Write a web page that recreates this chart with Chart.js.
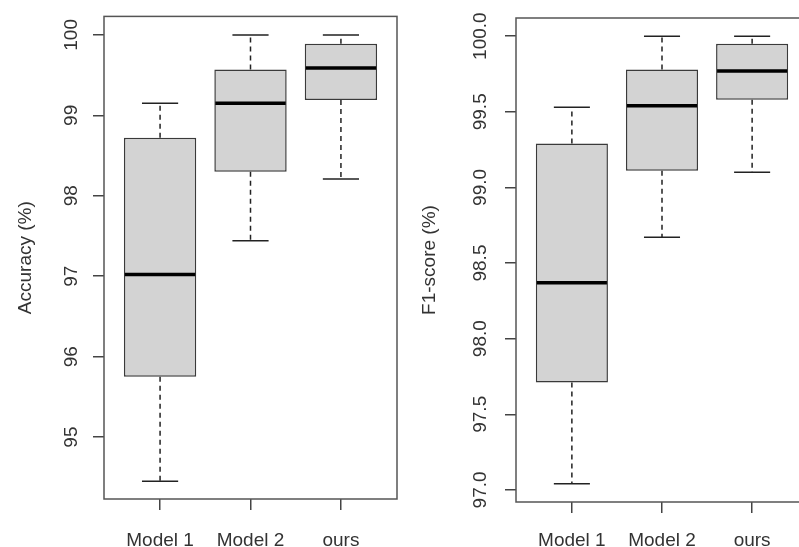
<!DOCTYPE html>
<html>
<head>
<meta charset="utf-8">
<script src="https://cdn.jsdelivr.net/npm/chart.js@4.4.1/dist/chart.umd.min.js"></script>
<style>
  html, body { margin: 0; padding: 0; background: #fff; overflow: hidden; }
  #wrap { position: relative; width: 799px; height: 547px; overflow: hidden; }
  #c1 { position: absolute; left: 0; top: 0; }
  #c2 { position: absolute; left: 400px; top: 0; }
</style>
</head>
<body>
<div id="wrap">
  <canvas id="c1" width="400" height="547"></canvas>
  <canvas id="c2" width="420" height="547"></canvas>
</div>
<script>
// Box plot summaries
const models = ['Model 1', 'Model 2', 'ours'];

const accMin = [94.45, 97.44, 98.21];
const accQ1  = [95.75, 98.30, 99.19];
const accMed = [97.02, 99.15, 99.59];
const accQ3  = [98.72, 99.57, 99.89];
const accMax = [99.15, 100.0, 100.0];
const accTicks = [95, 96, 97, 98, 99, 100];

const f1Min = [97.04, 98.67, 99.10];
const f1Q1  = [97.71, 99.11, 99.58];
const f1Med = [98.37, 99.54, 99.77];
const f1Q3  = [99.29, 99.78, 99.95];
const f1Max = [99.53, 100.0, 100.0];
const f1Ticks = [97.0, 97.5, 98.0, 98.5, 99.0, 99.5, 100.0];

const FONT = { family: 'Liberation Sans, Arial, sans-serif', size: 19 };
const INK = '#333';

// draws whiskers, caps, median and the frame round the plot (R style)
function boxPlugin(mins, meds, maxs) {
    return {
        id: 'rbox',
        afterDatasetsDraw(chart) {
            const ctx = chart.ctx;
            const xs = chart.scales.x, ys = chart.scales.y;
            const q1 = chart.data.datasets[0].data.map(d => d.y[0]);
            const q3 = chart.data.datasets[0].data.map(d => d.y[1]);
            ctx.save();
            for (let i = 0; i < mins.length; i++) {
                const pos = i + 1;
                const cx = xs.getPixelForValue(pos);
                // dashed whiskers
                ctx.strokeStyle = '#222';
                ctx.lineWidth = 1.5;
                ctx.setLineDash([5, 4]);
                ctx.beginPath();
                ctx.moveTo(cx, ys.getPixelForValue(q3[i]));
                ctx.lineTo(cx, ys.getPixelForValue(maxs[i]));
                ctx.moveTo(cx, ys.getPixelForValue(q1[i]));
                ctx.lineTo(cx, ys.getPixelForValue(mins[i]));
                ctx.stroke();
                // caps
                ctx.setLineDash([]);
                ctx.beginPath();
                [mins[i], maxs[i]].forEach(v => {
                    const py = ys.getPixelForValue(v);
                    ctx.moveTo(xs.getPixelForValue(pos - 0.2), py);
                    ctx.lineTo(xs.getPixelForValue(pos + 0.2), py);
                });
                ctx.stroke();
                // median
                ctx.strokeStyle = '#000';
                ctx.lineWidth = 3.5;
                ctx.beginPath();
                const my = ys.getPixelForValue(meds[i]);
                ctx.moveTo(xs.getPixelForValue(pos - 0.4) + 1, my);
                ctx.lineTo(xs.getPixelForValue(pos + 0.4) - 1, my);
                ctx.stroke();
            }
            // frame
            const a = chart.chartArea;
            ctx.strokeStyle = '#555';
            ctx.lineWidth = 1.5;
            ctx.strokeRect(a.left, a.top, a.right - a.left, a.bottom - a.top);
            ctx.restore();
        }
    };
}

function makeChart(id, cfg) {
    const ctx = document.getElementById(id).getContext('2d');
    return new Chart(ctx, {
        type: 'bar',
        data: {
            datasets: [{
                data: models.map((m, i) => ({ x: i + 1, y: [cfg.q1[i], cfg.q3[i]] })),
                backgroundColor: '#d3d3d3',
                borderColor: '#3a3a3a',
                borderWidth: 1.5,
                borderSkipped: false,
                barPercentage: 0.8,
                categoryPercentage: 1.0
            }]
        },
        options: {
            responsive: false,
            animation: false,
            layout: { padding: { top: cfg.top, right: cfg.right, left: 0, bottom: 0 } },
            plugins: { legend: { display: false }, tooltip: { enabled: false } },
            scales: {
                x: {
                    type: 'linear',
                    min: 0.38,
                    max: 3.62,
                    offset: false,
                    afterBuildTicks: s => { s.ticks = [1, 2, 3].map(v => ({ value: v })); },
                    afterFit: s => { s.height = cfg.xHeight; },
                    grid: { offset: false, drawOnChartArea: false, drawTicks: true, tickLength: 11, color: '#444', lineWidth: 1.5 },
                    border: { display: false },
                    ticks: {
                        callback: v => models[v - 1],
                        font: FONT, color: INK, padding: cfg.xPad,
                        maxRotation: 0, minRotation: 0, autoSkip: false
                    }
                },
                y: {
                    min: cfg.min,
                    max: cfg.max,
                    afterBuildTicks: s => { s.ticks = cfg.ticks.map(v => ({ value: v })); },
                    afterFit: s => { s.width = cfg.yWidth; },
                    grid: { drawOnChartArea: false, drawTicks: true, tickLength: 11, color: '#444', lineWidth: 1.5 },
                    border: { display: false },
                    title: { display: true, text: cfg.title, font: FONT, color: INK, padding: { top: cfg.titlePad, bottom: 0 } },
                    ticks: {
                        callback: cfg.fmt,
                        font: FONT, color: INK,
                        minRotation: 90, maxRotation: 90,
                        crossAlign: 'center',
                        padding: cfg.tickPad
                    }
                }
            }
        },
        plugins: [boxPlugin(cfg.mins, cfg.meds, cfg.maxs)]
    });
}

makeChart('c1', {
    q1: accQ1, q3: accQ3, mins: accMin, meds: accMed, maxs: accMax,
    ticks: accTicks, min: 94.23, max: 100.23,
    fmt: v => String(v), title: 'Accuracy (%)',
    top: 15, right: 3, xHeight: 48, yWidth: 104, titlePad: 14, tickPad: 5, xPad: 19
});

makeChart('c2', {
    q1: f1Q1, q3: f1Q3, mins: f1Min, meds: f1Med, maxs: f1Max,
    ticks: f1Ticks, min: 96.92, max: 100.12,
    fmt: v => v.toFixed(1), title: 'F1-score (%)',
    top: 18, right: 12, xHeight: 45, yWidth: 116, titlePad: 18, tickPad: 0, xPad: 16
});
</script>
</body>
</html>
